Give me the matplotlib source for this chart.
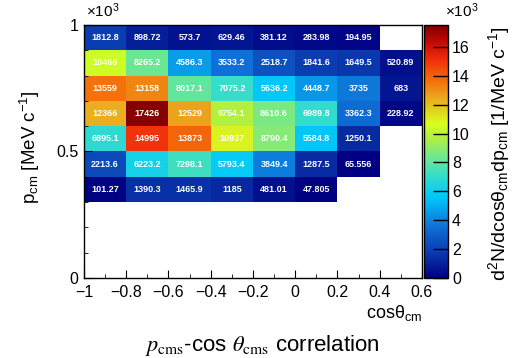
import numpy as np
import matplotlib
matplotlib.use("Agg")
import matplotlib.pyplot as plt
from matplotlib.ticker import MultipleLocator
from matplotlib.colors import LinearSegmentedColormap

plt.rcParams['font.family'] = ['Liberation Sans', 'DejaVu Sans']
plt.rcParams['mathtext.fontset'] = 'custom'
plt.rcParams['mathtext.rm'] = 'Liberation Sans'
plt.rcParams['mathtext.it'] = 'Liberation Sans:italic'
plt.rcParams['mathtext.bf'] = 'Liberation Sans:bold'

# bin edges
cos_edges = [-1.0, -0.8, -0.6, -0.4, -0.2, 0.0, 0.2, 0.4, 0.6]
p_edges = [0.3, 0.4, 0.5, 0.6, 0.7, 0.8, 0.9, 1.0]   # x10^3 MeV/c

# contents, one list per p bin (bottom to top), nan = empty bin
row_p03 = [101.27, 1390.3, 1465.9, 1185, 481.01, 47.805, np.nan, np.nan]
row_p04 = [2213.6, 6223.2, 7298.1, 5793.4, 3849.4, 1287.5, 65.556, np.nan]
row_p05 = [6895.1, 14995, 13873, 10937, 8790.4, 5584.8, 1250.1, np.nan]
row_p06 = [12366, 17426, 12529, 9754.1, 8610.6, 6989.8, 3362.3, 228.92]
row_p07 = [13559, 13158, 8017.1, 7075.2, 5636.2, 4448.7, 3735, 683]
row_p08 = [10466, 8265.2, 4586.3, 3533.2, 2518.7, 1841.6, 1649.5, 520.89]
row_p09 = [1812.8, 898.72, 573.7, 629.46, 381.12, 283.98, 194.95, np.nan]

cb_ticks = [0, 2, 4, 6, 8, 10, 12, 14, 16]   # x10^3

# palette close to the one in the picture (jet-like, a bit softer in the blues)
pal = [(0.00, (0, 0, 130)), (0.10, (10, 60, 175)), (0.20, (15, 110, 215)),
       (0.32, (0, 200, 250)), (0.40, (50, 220, 205)), (0.48, (115, 232, 140)),
       (0.56, (180, 240, 60)), (0.61, (215, 255, 30)), (0.71, (235, 170, 30)),
       (0.78, (245, 110, 10)), (0.86, (240, 50, 10)), (0.93, (200, 10, 5)),
       (1.00, (128, 0, 0))]
cmap = LinearSegmentedColormap.from_list('rootpal', [(p, tuple(c / 255 for c in col)) for p, col in pal])

Z = np.array([row_p03, row_p04, row_p05, row_p06, row_p07, row_p08, row_p09])
Zm = np.ma.masked_invalid(Z)

fig = plt.figure(figsize=(5.2, 3.58), dpi=100)
ax = fig.add_axes([0.1615, 0.2235, 0.65, 0.7067])
cax = fig.add_axes([0.815, 0.2235, 0.046, 0.7067])

mesh = ax.pcolormesh(cos_edges, p_edges, Zm, cmap=cmap, vmin=0, vmax=np.nanmax(Z) * 1.005)

xc = 0.5 * (np.array(cos_edges[:-1]) + np.array(cos_edges[1:]))
yc = 0.5 * (np.array(p_edges[:-1]) + np.array(p_edges[1:]))
for j in range(len(yc)):
    for i in range(len(xc)):
        v = Z[j, i]
        if np.isnan(v):
            continue
        ax.text(xc[i], yc[j], '{:.5g}'.format(v), ha='center', va='center',
                color='white', fontsize=6.5, fontweight='bold')

ax.set_xlim(-1, 0.6)
ax.set_ylim(0, 1)
ax.xaxis.set_minor_locator(MultipleLocator(0.1))
ax.yaxis.set_minor_locator(MultipleLocator(0.1))
ax.set_xticks([-1, -0.8, -0.6, -0.4, -0.2, 0, 0.2, 0.4, 0.6])
ax.set_xticklabels(['\u22121', '\u22120.8', '\u22120.6', '\u22120.4', '\u22120.2', '0', '0.2', '0.4', '0.6'])
ax.set_yticks([0, 0.5, 1])
ax.set_yticklabels(['0', '0.5', '1'])
ax.tick_params(which='both', direction='in', top=False, right=False, labelsize=11.5)
ax.tick_params(axis='x', pad=5)
ax.tick_params(axis='y', pad=4)
ax.tick_params(which='major', length=6)
ax.tick_params(which='minor', length=3)
for s in ax.spines.values():
    s.set_linewidth(1.0)

cb = fig.colorbar(mesh, cax=cax)
cb.set_ticks([t * 1000 for t in cb_ticks])
cb.set_ticklabels([str(t) for t in cb_ticks])
cax.tick_params(direction='in', length=11, width=1, labelsize=11.5, pad=3)
cb.outline.set_linewidth(1.0)

fig.text(86 / 520, 0.945, '\u00d710$^{3}$', fontsize=11, ha='left', va='bottom')
fig.text(445 / 520, 0.945, '\u00d710$^{3}$', fontsize=11, ha='left', va='bottom')

fig.text(30 / 520, 0.59, 'p$_{\\rm cm}$ [MeV c$^{-1}$]', rotation=90,
         ha='center', va='center', fontsize=13.5)
fig.text(422 / 520, 0.153, 'cos\u03b8$_{\\rm cm}$', ha='right', va='top', fontsize=13)
fig.text(499 / 520, 0.57, 'd$^{2}$N/dcos\u03b8$_{\\rm cm}$dp$_{\\rm cm}$ [1/MeV c$^{-1}$]',
         rotation=90, ha='center', va='center', fontsize=14)

fig.text(0.505, 0.02, '$p_{\\rm cms}$-cos $\\theta_{\\rm cms}$ correlation',
         ha='center', va='baseline', fontsize=16, math_fontfamily='stix')

fig.savefig('out.png', dpi=100)
